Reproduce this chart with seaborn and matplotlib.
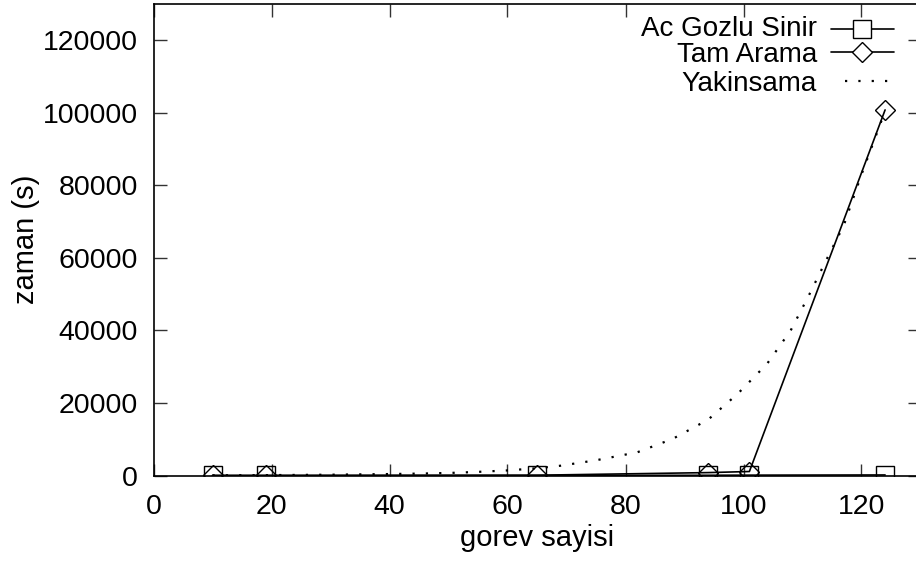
import matplotlib
matplotlib.use("Agg")
import matplotlib.pyplot as plt
import seaborn as sns
import pandas as pd

# Task counts and measured run times
gorev = [10, 19, 65, 94, 101, 124]
ac_gozlu_sinir = [1, 2, 10, 60, 100, 150]
tam_arama = [5, 10, 80, 800, 1100, 100800]

# Fitted approximation curve
yak_x = [10, 20, 30, 40, 46, 51, 55, 60, 65, 69, 75, 82, 88, 94, 99, 104,
         108, 111, 114, 117, 120, 124]
yak_y = [60, 110, 220, 400, 550, 750, 1000, 1400, 2000, 2700, 4200, 6400,
         10100, 15400, 22500, 30800, 40000, 49400, 59300, 69000, 83000, 100500]

labels = ["Ac Gozlu Sinir", "Tam Arama", "Yakinsama"]
x_ticks = [0, 20, 40, 60, 80, 100, 120]
y_ticks = [0, 20000, 40000, 60000, 80000, 100000, 120000]

sns.set_style("ticks")
plt.rcParams["font.family"] = ["Liberation Sans", "DejaVu Sans"]
plt.rcParams["text.color"] = "black"
plt.rcParams["axes.labelcolor"] = "black"
FS_TICK = 20.5
FS_LABEL = 21
FS_KEY = 20

W, H = 916, 562
fig = plt.figure(figsize=(W / 100, H / 100), dpi=100)
left, right, bottom, top = 153.5, 920.5, 475.5, 4.0
ax = fig.add_axes([left / W, (H - bottom) / H, (right - left) / W, (bottom - top) / H])

df_a = pd.DataFrame({"x": gorev, "y": ac_gozlu_sinir})
df_t = pd.DataFrame({"x": gorev, "y": tam_arama})
df_y = pd.DataFrame({"x": yak_x, "y": yak_y})

dots = (0, (1, 5))
SQ, DM = 12.3, 10.4
sns.lineplot(data=df_y, x="x", y="y", ax=ax, color="black", lw=1.6,
             linestyle=dots, zorder=2)
sns.lineplot(data=df_a, x="x", y="y", ax=ax, color="black", lw=1.2,
             marker="s", markersize=SQ, markerfacecolor="none",
             markeredgecolor="black", markeredgewidth=1.0, zorder=3)
sns.lineplot(data=df_t, x="x", y="y", ax=ax, color="black", lw=1.2,
             marker="D", markersize=DM, markerfacecolor="none",
             markeredgecolor="black", markeredgewidth=1.0, zorder=4)

ax.set_xlim(0, 130)
ax.set_ylim(0, 130000)
ax.set_xticks(x_ticks)
ax.set_yticks(y_ticks)
ax.set_xticklabels([str(v) for v in x_ticks])
ax.set_yticklabels([str(v) for v in y_ticks])
ax.tick_params(direction="in", length=9, width=1.0, color="#333333",
               top=True, right=True, labelsize=FS_TICK, labelcolor="black")
ax.tick_params(axis="y", pad=11)
ax.tick_params(axis="x", pad=13)
for s in ax.spines.values():
    s.set_color("black")
    s.set_linewidth(1.2)
ax.set_xlabel("gorev sayisi", fontsize=FS_LABEL, labelpad=3, color="black")
ax.set_ylabel("zaman (s)", fontsize=FS_LABEL, labelpad=2, color="black")

# Key in the upper right, text right-aligned before each sample
to_ax = lambda px, py: ((px - left) / (right - left), (bottom - py) / (bottom - top))
text_base = [36.0, 62.5, 91.0]
sample_rows = [29.0, 52.0, 81.0]
styles = [dict(marker="s", markersize=SQ, lw=1.2, ls="-"),
          dict(marker="D", markersize=DM, lw=1.2, ls="-"),
          dict(marker=None, lw=1.6, ls=dots)]
for lab, tb, yy, st in zip(labels, text_base, sample_rows, styles):
    tx, ty = to_ax(817, tb)
    ax.text(tx, ty, lab, transform=ax.transAxes, ha="right", va="baseline",
            fontsize=FS_KEY, color="black")
    _, sy = to_ax(0, yy)
    if st["marker"]:
        x0, _ = to_ax(831, yy)
        x1, _ = to_ax(894, yy)
        ax.plot([x0, x1], [sy, sy], transform=ax.transAxes, color="black",
                lw=st["lw"], ls="-", clip_on=False)
        xm, _ = to_ax(862.5, yy)
        ax.plot([xm], [sy], transform=ax.transAxes, marker=st["marker"],
                markersize=st["markersize"], markerfacecolor="white",
                markeredgecolor="black", markeredgewidth=1.0, clip_on=False)
    else:
        x0, _ = to_ax(845, yy)
        x1, _ = to_ax(897, yy)
        ax.plot([x0, x1], [sy, sy], transform=ax.transAxes, color="black",
                lw=st["lw"], ls=dots, clip_on=False)

fig.savefig("out.png", dpi=100)
